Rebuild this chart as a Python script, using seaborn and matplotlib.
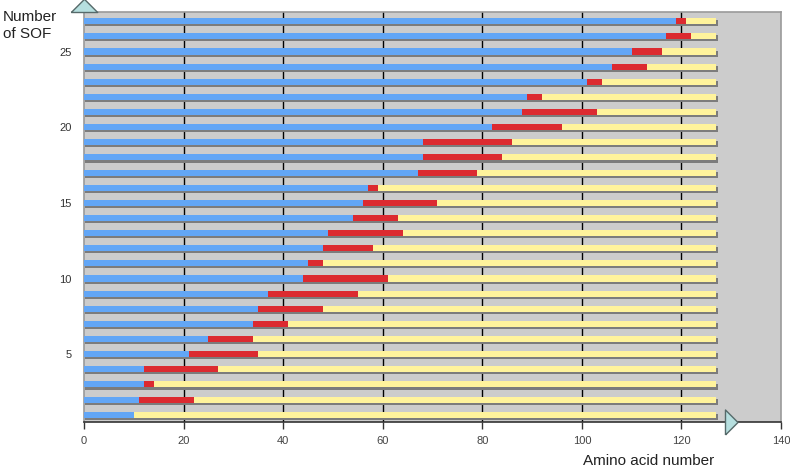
import numpy as np
import pandas as pd
import seaborn as sns
import matplotlib.pyplot as plt
import matplotlib.patheffects as pe

# rows (SOF number), blue ends at start, red runs start -> end, yellow to full length
sof = list(range(1, 28))
start = [10, 11, 12, 12, 21, 25, 34, 35, 37, 44, 45, 48, 49, 54, 56,
         57, 67, 68, 68, 82, 88, 89, 101, 106, 110, 117, 119]
end = [10, 22, 14, 27, 35, 34, 41, 48, 55, 61, 48, 58, 64, 63, 71,
       59, 79, 84, 86, 96, 103, 92, 104, 113, 116, 122, 121]
length = [127] * 27

xticks = [0, 20, 40, 60, 80, 100, 120, 140]
yticks = [5, 10, 15, 20, 25]

blue = "#62a6f6"
red = "#dc2a30"
yellow = "#fff39c"
shadow = "#7c7c7c"

plt.rcParams["font.family"] = ["Liberation Sans", "DejaVu Sans"]

df = pd.DataFrame({"sof": sof, "start": start, "end": end, "length": length})

fig = plt.figure(figsize=(7.9, 4.67), dpi=100)
ax = fig.add_axes([84 / 790, 45 / 467, 697 / 790, 410 / 467])
ax.set_facecolor("#cccccc")

for x in xticks[1:-1]:
    ax.axvline(x, color="black", lw=1, zorder=0.5)

sns.barplot(data=df, x="length", y="sof", orient="y", native_scale=True,
            width=0.4, color=yellow, saturation=1, errorbar=None,
            linewidth=0, ax=ax, zorder=2)
for p in ax.patches:
    p.set_path_effects([pe.SimplePatchShadow(offset=(1, -1.5), shadow_rgbFace=shadow, alpha=1),
                        pe.Normal()])
sns.barplot(data=df, x="end", y="sof", orient="y", native_scale=True,
            width=0.4, color=red, saturation=1, errorbar=None,
            linewidth=0, ax=ax, zorder=3)
sns.barplot(data=df, x="start", y="sof", orient="y", native_scale=True,
            width=0.4, color=blue, saturation=1, errorbar=None,
            linewidth=0, ax=ax, zorder=4)

ax.set_xlim(0, 140)
ax.set_ylim(0.52, 27.61)
ax.set_xticks(xticks)
ax.set_yticks(yticks)
ax.set_xlabel("")
ax.set_ylabel("")
ax.tick_params(axis="x", length=5, width=1, color="#333333", labelsize=8,
               labelcolor="#444444", pad=5)
ax.tick_params(axis="y", length=0, labelsize=8, labelcolor="#333333", pad=9)

for side in ["left", "top", "right"]:
    ax.spines[side].set_color("#9a9a9a")
    ax.spines[side].set_linewidth(1.2)
ax.spines["bottom"].set_color("#333333")
ax.spines["bottom"].set_linewidth(1.2)

# axis arrows
tri_up = [(-1, 0), (1, 0), (0, 1), (-1, 0)]
tri_right = [(0, -1), (0, 1), (1, 0), (0, -1)]
ax.plot([0], [27.61], marker=tri_up, ms=19, mfc="#b6dfdf", mec="#566a6a",
        mew=1, clip_on=False, zorder=10)
ax.plot([128.7], [0.52], marker=tri_right, ms=18, mfc="#b6dfdf", mec="#566a6a",
        mew=1, clip_on=False, zorder=10)

fig.text(3 / 790, 1 - 10 / 467, "Number\nof SOF", ha="left", va="top",
         fontsize=11, color="#222222", linespacing=1.25)
fig.text(649 / 790, 1 - 465 / 467, "Amino acid number", ha="center",
         va="baseline", fontsize=11, color="#222222")

fig.savefig("out.png", dpi=100)
